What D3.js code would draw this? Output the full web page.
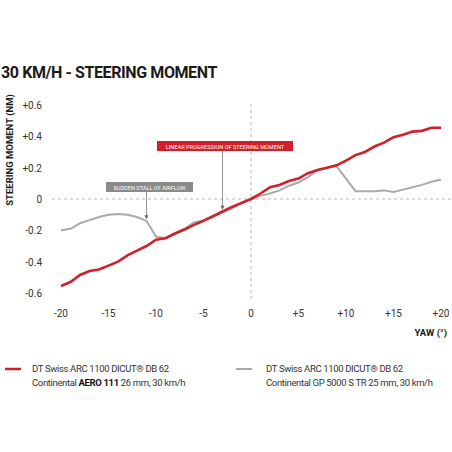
<!DOCTYPE html>
<html><head><meta charset="utf-8">
<script src="https://cdn.jsdelivr.net/npm/d3@7"></script>
<style>body{margin:0;background:#fff;font-family:Roboto,sans-serif}</style>
</head><body><div id="Chart"></div>
<script>
const yaw=d3.range(-20,21)
const aero=[-0.555,-0.53,-0.485,-0.46,-0.45,-0.425,-0.40,-0.36,-0.33,-0.30,-0.26,-0.25,-0.22,-0.195,-0.165,-0.14,-0.11,-0.08,-0.05,-0.025,0,0.035,0.075,0.09,0.115,0.13,0.165,0.185,0.20,0.215,0.245,0.28,0.30,0.335,0.36,0.395,0.41,0.43,0.435,0.455,0.455]
const gp5000=[-0.20,-0.19,-0.155,-0.135,-0.115,-0.10,-0.095,-0.10,-0.115,-0.14,-0.24,-0.25,-0.22,-0.19,-0.15,-0.135,-0.11,-0.085,-0.06,-0.03,0,0.02,0.035,0.055,0.085,0.105,0.14,0.185,0.20,0.21,0.13,0.05,0.05,0.05,0.055,0.045,0.06,0.075,0.09,0.11,0.125]
const xTicks=[-20,-15,-10,-5,0,5,10,15,20]
const yTicks=[-0.6,-0.4,-0.2,0,0.2,0.4,0.6]
const fmt=v=>v>0?"+"+v:(v<0?"-"+Math.abs(v):"0")

var svg=d3.select("#Chart").append("svg").attr("width",452).attr("height",452)
var X=d3.scaleLinear().domain([-20,20]).range([61,441])
var Y=d3.scaleLinear().domain([-0.6,0.6]).range([293,105])

svg.append("text").attr("x",1).attr("y",78).text("30 KM/H - STEERING MOMENT")
  .attr("font-weight","bold").attr("font-size",16).attr("fill","#1a1a1a").attr("letter-spacing","-0.4")
svg.append("text").attr("transform","translate(13,150)rotate(-90)").attr("text-anchor","middle")
  .attr("font-weight","bold").attr("font-size",9.5).attr("fill","#1a1a1a").text("STEERING MOMENT (NM)")
svg.append("text").attr("x",447).attr("y",336).attr("text-anchor","end").attr("font-weight","bold")
  .attr("font-size",9.5).attr("fill","#1a1a1a").text("YAW (°)")

// dashed zero lines
svg.append("line").attr("x1",52).attr("x2",452).attr("y1",Y(0)).attr("y2",Y(0))
  .attr("stroke","#999").attr("stroke-dasharray","3,3").attr("stroke-width",0.7)
svg.append("line").attr("x1",X(0)).attr("x2",X(0)).attr("y1",104).attr("y2",300)
  .attr("stroke","#999").attr("stroke-dasharray","3,3").attr("stroke-width",0.7)

svg.selectAll(".yt").data(yTicks).enter().append("text").attr("x",42).attr("y",d=>Y(d)+4)
  .attr("text-anchor","end").attr("font-size",10).attr("fill","#333").text(fmt)
svg.selectAll(".xt").data(xTicks).enter().append("text").attr("x",d=>X(d)).attr("y",317)
  .attr("text-anchor","middle").attr("font-size",10).attr("fill","#333").text(fmt)

var line=d3.line().x((d,i)=>X(yaw[i])).y(d=>Y(d))
svg.append("path").datum(gp5000).attr("d",line).attr("fill","none").attr("stroke","#aaa").attr("stroke-width",2)
svg.append("path").datum(aero).attr("d",line).attr("fill","none").attr("stroke","#d0202b").attr("stroke-width",2.6)

// annotations
function note(txt,x,y,w,bg,ax,ay){
  svg.append("line").attr("x1",X(ax)).attr("x2",X(ax)).attr("y1",y+5).attr("y2",Y(ay)-4).attr("stroke","#666").attr("stroke-width",0.7)
  svg.append("path").attr("d",`M${X(ax)-2},${Y(ay)-5}L${X(ax)+2},${Y(ay)-5}L${X(ax)},${Y(ay)-1}Z`).attr("fill","#666")
  svg.append("rect").attr("x",x).attr("y",y-5).attr("width",w).attr("height",10).attr("fill",bg)
  svg.append("text").attr("x",x+w/2).attr("y",y+2.5).attr("text-anchor","middle").attr("font-size",5.6).attr("fill","#fff").text(txt)
}
note("LINEAR PROGRESSION OF STEERING MOMENT",157,146,136,"#d0202b",-3,-0.075)
note("SUDDEN STALL OF AIRFLOW",106,187,87,"#8a8a8a",-11,-0.135)

// legend
var lg={size:9.5,ls:-0.35}
svg.append("line").attr("x1",5).attr("x2",21).attr("y1",369).attr("y2",369).attr("stroke","#d0202b").attr("stroke-width",2.5)
svg.append("line").attr("x1",236).attr("x2",252).attr("y1",369).attr("y2",369).attr("stroke","#aaa").attr("stroke-width",2)
function ltext(x,y){return svg.append("text").attr("x",x).attr("y",y).attr("font-size",lg.size).attr("letter-spacing",lg.ls).attr("fill","#333")}
ltext(32,372).text("DT Swiss ARC 1100 DICUT® DB 62")
var t2=ltext(32,386)
t2.append("tspan").text("Continental ")
t2.append("tspan").attr("font-weight","bold").attr("fill","#111").text("AERO 111")
t2.append("tspan").text(" 26 mm, 30 km/h")
ltext(266,372).text("DT Swiss ARC 1100 DICUT® DB 62")
ltext(266,386).text("Continental GP 5000 S TR 25 mm, 30 km/h")
</script></body></html>
